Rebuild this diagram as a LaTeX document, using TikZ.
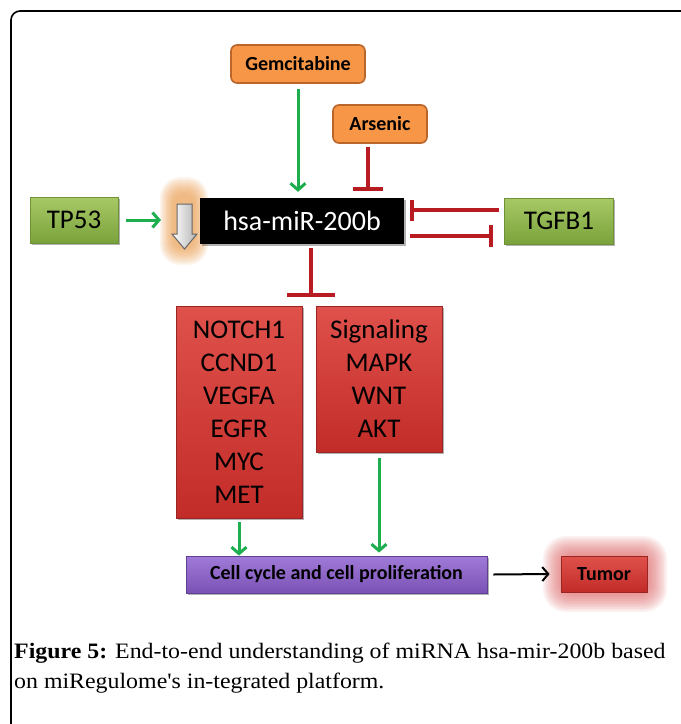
\documentclass[tikz,border=0pt]{standalone}
\usepackage{fontspec}
\setmainfont{Carlito}
\newfontfamily\capfont[FakeStretch=1.085]{Liberation Serif}
\usetikzlibrary{arrows.meta,shadows}

\definecolor{actgreen}{HTML}{1DAE4F}
\definecolor{inhred}{HTML}{B81C22}
\definecolor{orfill}{HTML}{F79646}
\definecolor{ordraw}{HTML}{B9652B}
\definecolor{gtop}{HTML}{A8C966}
\definecolor{gbot}{HTML}{7AA23B}
\definecolor{rtop}{HTML}{E0514C}
\definecolor{rbot}{HTML}{C22C28}
\definecolor{rdraw}{HTML}{9A2522}
\definecolor{ptop}{HTML}{A07AD8}
\definecolor{pbot}{HTML}{7A52B6}
\definecolor{pdraw}{HTML}{5E3F92}
\definecolor{glowor}{HTML}{EE9F4E}
\definecolor{glowred}{HTML}{E05A5A}

\begin{document}
\begin{tikzpicture}[x=1pt,y=-1pt,
  boxshadow/.style={drop shadow={shadow xshift=1.5pt,shadow yshift=-2pt,opacity=.3,fill=black}},
  drugbox/.style={rectangle,rounded corners=6pt,fill=orfill,draw=ordraw,line width=1.6pt,
    inner sep=0pt,font=\fontsize{20}{24}\selectfont\bfseries},
  genebox/.style={rectangle,inner sep=0pt,top color=gtop,bottom color=gbot,draw=gbot!90!black,
    line width=.5pt,boxshadow,font=\fontsize{27}{32}\selectfont},
  mirbox/.style={rectangle,inner sep=0pt,fill=black,text=white,boxshadow,
    font=\fontsize{28}{32}\selectfont},
  targetbox/.style={rectangle,inner sep=0pt,top color=rtop,bottom color=rbot,draw=rdraw,
    line width=.8pt,boxshadow,align=center,font=\fontsize{27}{33}\selectfont},
  procbox/.style={rectangle,inner sep=0pt,top color=ptop,bottom color=pbot,draw=pdraw,
    line width=.8pt,boxshadow,font=\fontsize{20}{24}\selectfont\bfseries},
  tumorbox/.style={rectangle,inner sep=0pt,top color=rtop,bottom color=rbot,draw=rdraw,
    line width=.8pt,font=\fontsize{20}{24}\selectfont\bfseries},
  act/.style={draw=actgreen,line width=3pt,-{Straight Barb[length=6.5pt,width=15pt]}},
  inh/.style={draw=inhred,line width=3.5pt,-{Bar[width=#1,line width=4pt]}},
  inh/.default=30pt,
  leads/.style={draw=black,line width=2pt,-{Straight Barb[length=6pt,width=14pt]}}]

\useasboundingbox (0,0) rectangle (681,724);
\fill[white] (0,0) rectangle (681,724);

% outer frame, open to the right and bottom
\begin{scope}
  \clip (0,0) rectangle (681,724);
  \draw[line width=1.6pt,rounded corners=9pt] (11,760) -- (11,11) -- (720,11);
\end{scope}

% soft orange glow behind the down-regulation arrow
\foreach \k in {0,...,11}{
  \pgfmathsetmacro{\hw}{24-1.2*\k}
  \pgfmathsetmacro{\hh}{44-1.5*\k}
  \pgfmathsetmacro{\rr}{0.85*\hw}
  \fill[glowor,opacity=.09,rounded corners=\rr pt]
    ({184-\hw},{221-\hh}) rectangle ({184+\hw},{221+\hh});
}

% soft red glow around the tumor box
\foreach \k in {0,...,12}{
  \pgfmathsetmacro{\hw}{62-1.6*\k}
  \pgfmathsetmacro{\hh}{38-1.6*\k}
  \pgfmathsetmacro{\rr}{0.6*\hh}
  \fill[glowred,opacity=.075,rounded corners=\rr pt]
    ({605-\hw},{574-\hh}) rectangle ({605+\hw},{574+\hh});
}

% nodes
\node[drugbox,minimum width=134pt,minimum height=38pt] (gem) at (298,64) {Gemcitabine};
\node[drugbox,minimum width=94pt,minimum height=38pt] (ars) at (380,124) {Arsenic};
\node[genebox,minimum width=88pt,minimum height=46pt] (tp53) at (74,220) {TP53};
\node[mirbox,minimum width=204pt,minimum height=46pt] (mir) at (302,221) {hsa-miR-200b};
\node[genebox,minimum width=109pt,minimum height=46pt] (tgfb) at (559,221) {TGFB1};
\node[targetbox,minimum width=126pt,minimum height=212pt] (lbox) at (239,412)
  {NOTCH1\\CCND1\\VEGFA\\EGFR\\MYC\\MET};
\node[targetbox,minimum width=126pt,minimum height=146pt] (rbox) at (379,379)
  {Signaling\\MAPK\\WNT\\AKT};
\node[procbox,minimum width=301pt,minimum height=37pt] (cell) at (336.5,574.5)
  {Cell cycle and cell proliferation};
\node[tumorbox,minimum width=86pt,minimum height=36pt] (tumor) at (604,574) {Tumor};

% hollow down-regulation arrow
\draw[draw=black!60,line width=1pt,left color=white,right color=black!30]
  (177,204) -- (192,204) -- (192,234) -- (197,234) -- (184.5,249) -- (172,234) -- (177,234) -- cycle;
\coordinate (down) at (161,220);
\coordinate (split) at (311,297);

% connectors
\draw[act] ([xshift=8pt]tp53.east) -- (down);
\draw[act] ([yshift=-5pt]gem.south) -- ([yshift=6pt]gem.south |- mir.north);
\draw[inh] ([xshift=-12pt,yshift=-3pt]ars.south) -- ([xshift=-12pt,yshift=7pt]ars.south |- mir.north);
\draw[inh=21pt] ([xshift=-5pt,yshift=11pt]tgfb.west) -- ([xshift=6pt,yshift=11pt]mir.east);
\draw[inh=22pt] ([xshift=6pt,yshift=-15pt]mir.east) -- ([xshift=-11pt,yshift=-15pt]tgfb.west);
\draw[inh=48pt] ([xshift=9pt,yshift=-4pt]mir.south) -- (split);
\draw[act] ([yshift=-4pt]lbox.south) -- (lbox.south |- cell.north);
\draw[act] ([yshift=-6pt]rbox.south) -- ([yshift=3pt]rbox.south |- cell.north);
\draw[leads] ([xshift=6pt]cell.east) -- ([xshift=-11pt]tumor.west);

% caption
\node[anchor=base west,inner sep=0pt,font=\capfont\fontsize{22}{30}\selectfont] (cap1) at (14,658)
  {\textbf{Figure 5:} End-to-end understanding of miRNA hsa-mir-200b based};
\node[anchor=base west,inner sep=0pt,font=\capfont\fontsize{22}{30}\selectfont] (cap2) at (14,688)
  {on miRegulome's in-tegrated platform.};
\end{tikzpicture}
\end{document}
